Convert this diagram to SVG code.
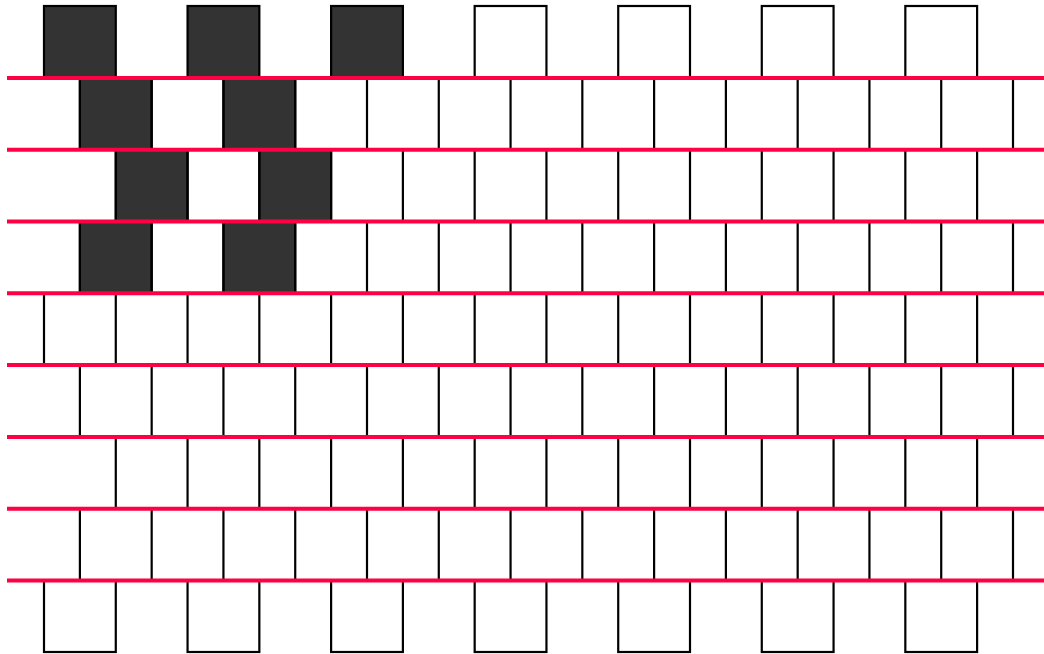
<svg xmlns="http://www.w3.org/2000/svg" width="1044" height="654" viewBox="0 0 1044 654">
<style>
.t{fill:#fff;stroke:#000;stroke-width:2.2}
.d{fill:#333;stroke:#000;stroke-width:2.2}
.v{fill:none;stroke:#000;stroke-width:2.2}
.r{fill:none;stroke:#ff0044;stroke-width:4}
</style>
<rect width="1044" height="654" fill="#fff"/>
<g id="top-row">
<rect class="d" x="44" y="6" width="71.78" height="71.78"/>
<rect class="d" x="187.56" y="6" width="71.78" height="71.78"/>
<rect class="d" x="331.11" y="6" width="71.78" height="71.78"/>
<rect class="t" x="474.67" y="6" width="71.78" height="71.78"/>
<rect class="t" x="618.22" y="6" width="71.78" height="71.78"/>
<rect class="t" x="761.78" y="6" width="71.78" height="71.78"/>
<rect class="t" x="905.33" y="6" width="71.78" height="71.78"/>
</g>
<g id="dark-tiles">
<rect class="d" x="79.89" y="77.78" width="71.78" height="71.78"/>
<rect class="d" x="223.44" y="77.78" width="71.78" height="71.78"/>
<rect class="d" x="115.78" y="149.56" width="71.78" height="71.78"/>
<rect class="d" x="259.33" y="149.56" width="71.78" height="71.78"/>
<rect class="d" x="79.89" y="221.33" width="71.78" height="71.78"/>
<rect class="d" x="223.44" y="221.33" width="71.78" height="71.78"/>
</g>
<g id="row-lines">
<path class="v" d="M79.89 77.78V149.56M151.67 77.78V149.56M223.44 77.78V149.56M295.22 77.78V149.56M367 77.78V149.56M438.78 77.78V149.56M510.56 77.78V149.56M582.33 77.78V149.56M654.11 77.78V149.56M725.89 77.78V149.56M797.67 77.78V149.56M869.44 77.78V149.56M941.22 77.78V149.56M1013 77.78V149.56"/>
<path class="v" d="M115.78 149.56V221.33M187.56 149.56V221.33M259.33 149.56V221.33M331.11 149.56V221.33M402.89 149.56V221.33M474.67 149.56V221.33M546.44 149.56V221.33M618.22 149.56V221.33M690 149.56V221.33M761.78 149.56V221.33M833.56 149.56V221.33M905.33 149.56V221.33M977.11 149.56V221.33"/>
<path class="v" d="M79.89 221.33V293.11M151.67 221.33V293.11M223.44 221.33V293.11M295.22 221.33V293.11M367 221.33V293.11M438.78 221.33V293.11M510.56 221.33V293.11M582.33 221.33V293.11M654.11 221.33V293.11M725.89 221.33V293.11M797.67 221.33V293.11M869.44 221.33V293.11M941.22 221.33V293.11M1013 221.33V293.11"/>
<path class="v" d="M44 293.11V364.89M115.78 293.11V364.89M187.56 293.11V364.89M259.33 293.11V364.89M331.11 293.11V364.89M402.89 293.11V364.89M474.67 293.11V364.89M546.44 293.11V364.89M618.22 293.11V364.89M690 293.11V364.89M761.78 293.11V364.89M833.56 293.11V364.89M905.33 293.11V364.89M977.11 293.11V364.89"/>
<path class="v" d="M79.89 364.89V436.67M151.67 364.89V436.67M223.44 364.89V436.67M295.22 364.89V436.67M367 364.89V436.67M438.78 364.89V436.67M510.56 364.89V436.67M582.33 364.89V436.67M654.11 364.89V436.67M725.89 364.89V436.67M797.67 364.89V436.67M869.44 364.89V436.67M941.22 364.89V436.67M1013 364.89V436.67"/>
<path class="v" d="M115.78 436.67V508.44M187.56 436.67V508.44M259.33 436.67V508.44M331.11 436.67V508.44M402.89 436.67V508.44M474.67 436.67V508.44M546.44 436.67V508.44M618.22 436.67V508.44M690 436.67V508.44M761.78 436.67V508.44M833.56 436.67V508.44M905.33 436.67V508.44M977.11 436.67V508.44"/>
<path class="v" d="M79.89 508.44V580.22M151.67 508.44V580.22M223.44 508.44V580.22M295.22 508.44V580.22M367 508.44V580.22M438.78 508.44V580.22M510.56 508.44V580.22M582.33 508.44V580.22M654.11 508.44V580.22M725.89 508.44V580.22M797.67 508.44V580.22M869.44 508.44V580.22M941.22 508.44V580.22M1013 508.44V580.22"/>
</g>
<g id="bottom-row">
<rect class="t" x="44" y="580.22" width="71.78" height="71.78"/>
<rect class="t" x="187.56" y="580.22" width="71.78" height="71.78"/>
<rect class="t" x="331.11" y="580.22" width="71.78" height="71.78"/>
<rect class="t" x="474.67" y="580.22" width="71.78" height="71.78"/>
<rect class="t" x="618.22" y="580.22" width="71.78" height="71.78"/>
<rect class="t" x="761.78" y="580.22" width="71.78" height="71.78"/>
<rect class="t" x="905.33" y="580.22" width="71.78" height="71.78"/>
</g>
<g id="mortar-lines">
<path class="r" d="M7 78H1044M7 149.78H1044M7 221.56H1044M7 293.33H1044M7 365.11H1044M7 436.89H1044M7 508.67H1044M7 580.44H1044"/>
</g>
</svg>
